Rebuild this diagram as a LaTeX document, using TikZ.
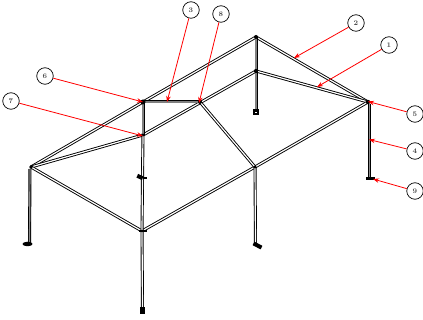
\documentclass[tikz,border=0pt]{standalone}
\usetikzlibrary{arrows.meta,shapes.geometric}
\tikzset{
  callout/.style={circle,draw=black,line width=0.7pt,fill=white,minimum size=16.5pt,inner sep=0pt,font=\fontsize{7}{8}\selectfont\bfseries,text=black!70},
  leader/.style={draw=red,line width=0.8pt,-{Stealth[length=6pt,width=4.5pt]},shorten >=0pt},
  joint/.style={fill=black,inner sep=0pt,minimum size=3.4pt,circle},
  footplate/.style={fill=black,inner sep=0pt,minimum width=5pt,minimum height=5pt,rectangle},
}
\newcommand{\tubeline}[3][white]{%
  \draw[black,line width=3pt] (#2) -- (#3);
  \draw[#1,line width=1.2pt] (#2) -- (#3);
}
\begin{document}
\begin{tikzpicture}[x=1pt,y=-1pt]
\useasboundingbox[fill=white] (0,0) rectangle (423,320);
% joints
\coordinate (A) at (256,37);
\coordinate (B) at (368,102);
\coordinate (C) at (256,71);
\coordinate (D) at (143,102);
\coordinate (E) at (143,135);
\coordinate (F) at (200,102);
\coordinate (G) at (31,167);
\coordinate (H) at (142,231);
\coordinate (I) at (255,167);
\coordinate (B2) at (369.5,104);
\coordinate (G2) at (30,169);
\coordinate (M) at (142.5,179);
% feet
\coordinate (fA) at (256,112);
\coordinate (fB) at (369.5,179);
\coordinate (fG) at (29.5,244);
\coordinate (fH) at (142.5,311);
\coordinate (fI) at (255.5,245);
% tubes
\tubeline{G}{D}
\tubeline{D}{A}
\tubeline{A}{B}
\tubeline{C}{B}
\tubeline{E}{C}
\tubeline{G}{E}
\tubeline{G}{H}
\tubeline{H}{I}
\tubeline{I}{B}
\tubeline{I}{F}
\tubeline[gray]{F}{D}
\tubeline[gray]{D}{E}
\tubeline[gray]{A}{fA}
\tubeline[black!45]{B2}{fB}
\tubeline[black!45]{G2}{fG}
\tubeline{E}{M}
\tubeline{M}{H}
\tubeline{H}{fH}
\tubeline{I}{fI}
% joints and feet
\foreach \p/\s in {A/4,B/4.4,C/4.2,D/5,E/3.4,F/4,G/3.6,H/2.6,I/3.4}
  \node[joint,minimum size=\s pt] (j\p) at (\p) {};
\node[footplate,minimum width=5.5pt,minimum height=6pt] (ffA) at (fA) {};
\node[fill=white,inner sep=0pt,minimum size=1.6pt] at (256,112.6) {};
\node[footplate,minimum width=9pt,minimum height=3.6pt] (ffB) at (370.5,178.5) {};
\node[footplate,minimum width=6pt,minimum height=4pt,rotate=-25] (ffE) at (140,177) {};
\node[footplate,minimum width=3.5pt,minimum height=2pt] (ffE2) at (145,178.5) {};
\node[footplate,ellipse,minimum width=10pt,minimum height=4.5pt] (ffG) at (27.5,244) {};
\node[footplate,minimum width=5.5pt,minimum height=7pt] (ffH) at (fH) {};
\node[footplate,minimum width=9pt,minimum height=4pt,rotate=-28] (ffI) at (257.5,245.5) {};
\draw[black,line width=1.6pt] (138.5,231) -- (146.5,231);
% arrow targets
\coordinate (t1) at (317,87);
\coordinate (t2) at (294,58);
\coordinate (t3) at (167,102);
\coordinate (t4) at (369,139.5);
\coordinate (t5) at (368,101.5);
\coordinate (t6) at (143,102);
\coordinate (t7) at (143,136);
\coordinate (t8) at (199,103);
\coordinate (t9) at (373,179);
% callouts
\node[callout] (n1) at (389,45) {1};
\node[callout] (n2) at (356,23) {2};
\node[callout] (n3) at (191,10) {3};
\node[callout] (n4) at (415,151) {4};
\node[callout] (n5) at (415,114) {5};
\node[callout] (n6) at (45,76) {6};
\node[callout] (n7) at (11,101) {7};
\node[callout] (n8) at (221,14) {8};
\node[callout] (n9) at (415,191) {9};
\foreach \i in {1,...,9} \draw[leader] (n\i) -- (t\i);
\end{tikzpicture}
\end{document}
